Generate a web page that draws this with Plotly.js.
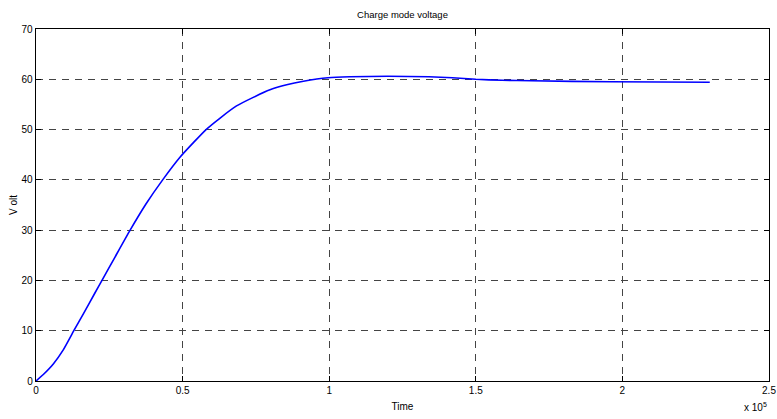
<!DOCTYPE html>
<html>
<head>
<meta charset="utf-8">
<script src="https://cdn.plot.ly/plotly-3.0.1.min.js"></script>
<style>
html,body{margin:0;padding:0;background:#fff;}
#chart{width:777px;height:419px;}
</style>
</head>
<body>
<div id="chart"></div>
<script>
// Time in units of 1e5
var timeVals = [0, 0.025, 0.059, 0.093, 0.129, 0.162, 0.2, 0.227, 0.27, 0.321, 0.375, 0.432, 0.491, 0.54, 0.58, 0.628, 0.684, 0.741, 0.798, 0.855, 0.912, 0.996, 1.07, 1.2, 1.34, 1.42, 1.5, 1.59, 1.69, 1.96, 2.298];
var voltVals = [0, 1.3, 3.4, 6.2, 10, 13.4, 17.4, 20.2, 24.7, 30, 35.2, 40, 44.5, 47.6, 50, 52.3, 54.7, 56.4, 57.9, 58.9, 59.6, 60.3, 60.5, 60.6, 60.5, 60.3, 60.0, 59.8, 59.7, 59.5, 59.4];
var xTicks = [0, 0.5, 1, 1.5, 2, 2.5];
var xTickText = ['0', '0.5', '1', '1.5', '2', '2.5'];
var yTicks = [0, 10, 20, 30, 40, 50, 60, 70];

var font = {family: 'Liberation Sans, Arial, sans-serif', size: 10, color: '#000'};

var trace = {
  x: timeVals, y: voltVals, type: 'scatter', mode: 'lines',
  line: {color: '#0000ff', width: 1.6, shape: 'spline', smoothing: 0.5},
  hoverinfo: 'none'
};

var axisCommon = {
  showline: true, linecolor: '#000', linewidth: 1.3, mirror: 'ticks',
  ticks: 'inside', ticklen: 5, tickcolor: '#000', tickwidth: 1,
  showgrid: true, gridcolor: '#444', gridwidth: 1, griddash: '7px,6px',
  zeroline: false, tickfont: font
};

var layout = {
  width: 777, height: 419,
  margin: {l: 36, r: 8, t: 29, b: 38},
  paper_bgcolor: '#fff', plot_bgcolor: '#fff',
  showlegend: false,
  title: {text: 'Charge mode voltage', font: {family: font.family, size: 9.5, color: '#000'}, x: 0.5, xanchor: 'center', y: 0.966, yanchor: 'middle', xref: 'paper'},
  xaxis: Object.assign({}, axisCommon, {
    range: [0, 2.5], tickvals: xTicks, ticktext: xTickText,
    title: {text: 'Time', font: font, standoff: 7}
  }),
  yaxis: Object.assign({}, axisCommon, {
    range: [0, 70], tickvals: yTicks,
    title: {text: 'V olt', font: font, standoff: 2}
  }),
  annotations: [{
    xref: 'paper', yref: 'paper', x: 1.0, y: -0.05, xanchor: 'right', yanchor: 'top',
    text: 'x 10<sup>5</sup>', showarrow: false, font: font
  }]
};

Plotly.newPlot('chart', [trace], layout, {staticPlot: true, displayModeBar: false});
</script>
</body>
</html>
